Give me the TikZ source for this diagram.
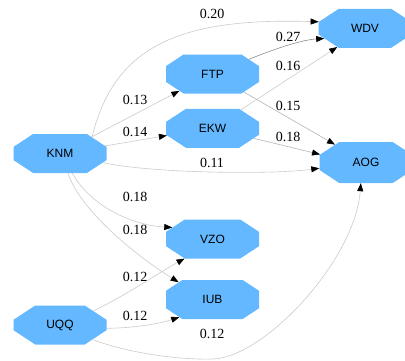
\documentclass[tikz,border=0pt]{standalone}
\usepackage{fontspec}
\setmainfont{Liberation Serif}
\setsansfont{Liberation Sans}
\usetikzlibrary{shapes.misc,arrows.meta}
\definecolor{nodeblue}{HTML}{63B8FF}
\definecolor{edgelight}{HTML}{CCCCCC}
\definecolor{edgemid}{HTML}{B4B4B4}
\definecolor{edgedark}{HTML}{8C8C8C}
\begin{document}
\begin{tikzpicture}[x=1pt,y=-1pt,
  oct/.style={chamfered rectangle, chamfered rectangle angle=56.7,
    chamfered rectangle xsep=17.5pt, chamfered rectangle ysep=11.5pt,
    fill=nodeblue, draw=none,
    minimum width=93pt, minimum height=39pt, inner sep=0pt,
    font=\sffamily\fontsize{12}{12}\selectfont},
  lab/.style={font=\fontsize{14}{14}\selectfont, inner sep=0pt},
  conn/.style={draw=edgelight, line width=0.6pt,
    -{Triangle[length=8pt,width=6pt,color=black]}},
]
\useasboundingbox (0,0) rectangle (405,360);
\fill[white] (0,0) rectangle (405,360);

\node[oct] (KNM) at (60,153.5) {KNM};
\node[oct] (FTP) at (212.5,74) {FTP};
\node[oct] (EKW) at (212.5,128.3) {EKW};
\node[oct] (WDV) at (365,28.3) {WDV};
\node[oct, minimum height=41pt] (AOG) at (366,162.5) {AOG};
\node[oct] (VZO) at (212.5,239) {VZO};
\node[oct] (IUB) at (212.5,299.5) {IUB};
\node[oct] (UQQ) at (60,325) {UQQ};

\draw[conn] (KNM.27) .. controls (115,40) and (190,18) .. (WDV.172);
\draw[conn, draw=edgedark] (FTP.22) .. controls (272,50) and (300,40) .. (WDV.194);
\draw[conn] (EKW) -- (WDV.214);
\draw[conn, draw=edgemid] (FTP) -- (AOG.150);
\draw[conn, draw=edgemid] (EKW) -- (AOG.170);
\draw[conn] (KNM) -- (FTP.207);
\draw[conn] (KNM) -- (EKW.189);
\draw[conn] (KNM.-12) .. controls (150,173) and (270,175) .. (AOG.187);
\draw[conn] (KNM.-58) .. controls (90,205) and (130,225) .. (VZO.164);
\draw[conn] (KNM.-68) .. controls (80,210) and (135,255) .. (IUB.153);
\draw[conn] (UQQ.23) .. controls (125,296) and (160,272) .. (VZO.215);
\draw[conn] (UQQ.-4) .. controls (140,328) and (165,322) .. (IUB.208);
\coordinate (low) at (213,359);
\draw[conn] (UQQ.-24) .. controls (125,352) and (175,360) .. (low)
  .. controls (265,357) and (355,260) .. (AOG.256);

\node[lab] (l1) at (212,14) {0.20};
\node[lab] (l2) at (288,37) {0.27};
\node[lab] (l3) at (288,66) {0.16};
\node[lab] (l4) at (288,106) {0.15};
\node[lab] (l5) at (288,137) {0.18};
\node[lab] (l6) at (135,100) {0.13};
\node[lab] (l7) at (135,132) {0.14};
\node[lab] (l8) at (212,163) {0.11};
\node[lab] (l9) at (135,197) {0.18};
\node[lab] (l10) at (135,230) {0.18};
\node[lab] (l11) at (135,277) {0.12};
\node[lab] (l12) at (135,316) {0.12};
\node[lab] (l13) at (212,334) {0.12};
\end{tikzpicture}
\end{document}
